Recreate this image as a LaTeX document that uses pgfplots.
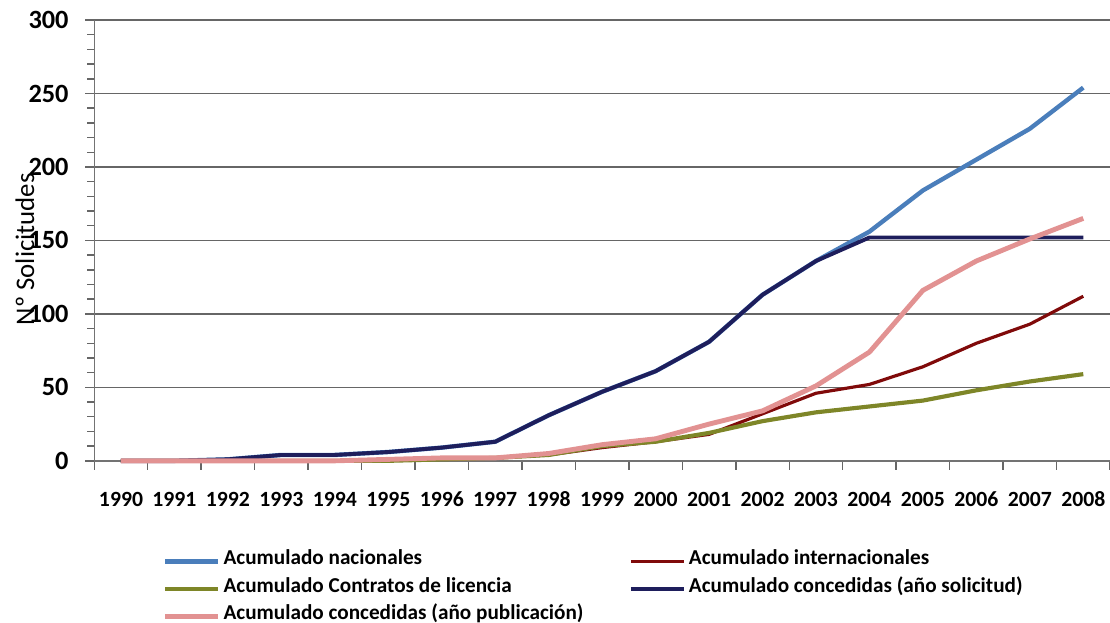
\documentclass[border=0pt]{standalone}
\usepackage{pgfplots}
\pgfplotsset{compat=1.18}
\usepackage{fontspec}
\setmainfont{Carlito}

\definecolor{nacBlue}{RGB}{74,126,187}
\definecolor{intRed}{RGB}{128,10,10}
\definecolor{licGreen}{RGB}{126,134,40}
\definecolor{solNavy}{RGB}{30,30,92}
\definecolor{pubPink}{RGB}{226,146,146}

% years 1990..2008 plotted at 0..18
\pgfplotstableread{
x nac int lic sol pub
0  0   0   0   0   0
1  0   0   0   0   0
2  1   0   0   1   0
3  4   0   0   4   0
4  4   0   0   4   0
5  6   1   0   6   1
6  9   2   1   9   2
7  13  2   2   13  2
8  31  4   4   31  5
9  47  9   10  47  11
10 61  13  13  61  15
11 81  18  19  81  25
12 113 32  27  113 34
13 136 46  33  136 51
14 156 52  37  152 74
15 184 64  41  152 116
16 205 80  48  152 136
17 226 93  54  152 151
18 254 112 59  152 165
}\datatable

\begin{document}
\begin{tikzpicture}
\begin{axis}[
    width=416.6pt, height=180.8pt,
    scale only axis,
    clip=false,
    xmin=-0.5, xmax=18.5,
    ymin=0, ymax=300,
    axis lines=left,
    axis line style={-, black!55, line width=0.6pt},
    xtick={-0.5,0.5,...,18.5},
    xticklabels={},
    extra x ticks={0,...,18},
    extra x tick labels={1990,1991,1992,1993,1994,1995,1996,1997,1998,1999,2000,2001,2002,2003,2004,2005,2006,2007,2008},
    extra x tick style={major tick length=0pt, grid=none},
    ytick={0,50,...,300},
    minor y tick num=4,
    tick align=outside,
    major tick length=3.7pt,
    minor tick length=2.9pt,
    tick style={black!60, line width=0.6pt},
    ymajorgrids,
    grid style={black!60, line width=0.6pt},
    /pgf/number format/assume math mode=true,
    yticklabel style={font=\fontsize{10.8}{12}\selectfont\bfseries, xshift=-3.3pt},
    xticklabel style={font=\fontsize{8.9}{10}\selectfont\bfseries, yshift=-9.5pt,
                      text height=5.8pt, text depth=0pt},
    ylabel={Nº Solicitudes},
    ylabel style={at={(axis description cs:-0.0682,0.48)}, anchor=center,
                  font=\fontsize{11}{13}\selectfont},
    legend columns=2,
    legend cell align=left,
    legend image code/.code={\draw[#1] (0pt,0pt) -- (21.7pt,0pt);},
    legend style={at={(axis description cs:0.0673,-0.197)}, anchor=north west,
                  draw=none, fill=none, inner sep=0pt, outer sep=0pt, row sep=0pt,
                  font=\fontsize{8.7}{10}\selectfont\bfseries,
                  nodes={inner ysep=0pt, inner xsep=0.8pt, text height=7pt, text depth=4.25pt},
                  /tikz/every odd column/.append style={column sep=0.5pt},
                  /tikz/every even column/.append style={column sep=17.9pt}},
]
\addplot[nacBlue, line width=1.8pt] table[x=x, y=nac] {\datatable};
\addplot[intRed, line width=1.3pt] table[x=x, y=int] {\datatable};
\addplot[licGreen, line width=1.7pt] table[x=x, y=lic] {\datatable};
\addplot[solNavy, line width=1.6pt] table[x=x, y=sol] {\datatable};
\addplot[pubPink, line width=2pt] table[x=x, y=pub] {\datatable};
\legend{Acumulado nacionales, Acumulado internacionales,
        Acumulado Contratos de licencia, Acumulado concedidas (año solicitud),
        Acumulado concedidas (año publicación)}
\coordinate (bbsw) at (rel axis cs:-0.0928,-0.3673);
\coordinate (bbne) at (rel axis cs:1,1.0454);
\end{axis}
\pgfresetboundingbox
\path (bbsw) rectangle (bbne);
\end{tikzpicture}
\end{document}
